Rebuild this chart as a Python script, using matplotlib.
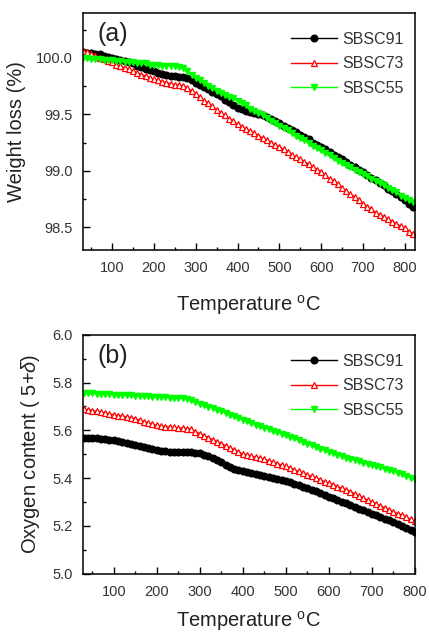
#!/usr/bin/env python3
"""TGA weight loss (a) and oxygen content (b) for SBSC91 / SBSC73 / SBSC55."""

import matplotlib
matplotlib.use("Agg")
import matplotlib.pyplot as plt
from matplotlib.ticker import MultipleLocator, FormatStrFormatter

# ---- panel (a): weight loss (%), 30..820 C every 10 C
temp_a = list(range(30, 830, 10))
wl_91 = [100.05, 100.04, 100.04, 100.03, 100.03, 100.02, 100.01, 100.00, 99.99, 99.98,
         99.97, 99.96, 99.95, 99.93, 99.92, 99.90, 99.89, 99.88, 99.87, 99.86,
         99.85, 99.84, 99.84, 99.83, 99.83, 99.82, 99.80, 99.78, 99.76, 99.74,
         99.72, 99.70, 99.68, 99.66, 99.63, 99.61, 99.58, 99.56, 99.55, 99.53,
         99.52, 99.51, 99.50, 99.49, 99.48, 99.46, 99.44, 99.42, 99.40, 99.38,
         99.36, 99.34, 99.32, 99.30, 99.28, 99.25, 99.23, 99.21, 99.19, 99.17,
         99.14, 99.12, 99.10, 99.08, 99.05, 99.03, 99.01, 98.99, 98.96, 98.94,
         98.92, 98.89, 98.87, 98.84, 98.82, 98.79, 98.77, 98.74, 98.71, 98.68]
wl_73 = [100.06, 100.05, 100.03, 100.02, 100.00, 99.99, 99.97, 99.96, 99.94, 99.93,
         99.91, 99.90, 99.88, 99.87, 99.85, 99.84, 99.82, 99.81, 99.80, 99.79,
         99.78, 99.77, 99.76, 99.76, 99.75, 99.73, 99.71, 99.68, 99.65, 99.62,
         99.60, 99.57, 99.54, 99.51, 99.49, 99.46, 99.44, 99.41, 99.39, 99.37,
         99.35, 99.33, 99.31, 99.29, 99.27, 99.25, 99.23, 99.21, 99.19, 99.17,
         99.14, 99.12, 99.10, 99.08, 99.06, 99.03, 99.01, 98.99, 98.96, 98.93,
         98.91, 98.88, 98.85, 98.82, 98.79, 98.77, 98.74, 98.71, 98.68, 98.66,
         98.63, 98.61, 98.59, 98.57, 98.55, 98.53, 98.51, 98.49, 98.46, 98.44]
wl_55 = [100.00, 100.00, 99.99, 99.99, 99.99, 99.98, 99.98, 99.98, 99.97, 99.97,
         99.96, 99.96, 99.96, 99.95, 99.95, 99.95, 99.94, 99.94, 99.94, 99.93,
         99.93, 99.93, 99.93, 99.92, 99.91, 99.88, 99.85, 99.82, 99.80, 99.78,
         99.75, 99.73, 99.71, 99.69, 99.67, 99.65, 99.64, 99.62, 99.60, 99.58,
         99.55, 99.53, 99.51, 99.49, 99.47, 99.44, 99.42, 99.40, 99.38, 99.36,
         99.33, 99.31, 99.29, 99.27, 99.25, 99.22, 99.20, 99.18, 99.16, 99.14,
         99.11, 99.09, 99.07, 99.05, 99.03, 99.01, 98.99, 98.97, 98.95, 98.93,
         98.91, 98.89, 98.87, 98.85, 98.83, 98.81, 98.78, 98.76, 98.74, 98.72]

# ---- panel (b): oxygen content 5+delta, 30..800 C every 10 C
temp_b = list(range(30, 810, 10))
ox_91 = [5.570, 5.569, 5.568, 5.566, 5.565, 5.563, 5.561, 5.558, 5.554, 5.550,
         5.546, 5.542, 5.538, 5.534, 5.530, 5.526, 5.522, 5.518, 5.515, 5.513,
         5.511, 5.510, 5.510, 5.509, 5.509, 5.508, 5.506, 5.504, 5.499, 5.493,
         5.486, 5.477, 5.467, 5.457, 5.448, 5.440, 5.434, 5.429, 5.425, 5.421,
         5.417, 5.413, 5.409, 5.405, 5.401, 5.397, 5.392, 5.387, 5.382, 5.376,
         5.371, 5.365, 5.359, 5.352, 5.345, 5.338, 5.331, 5.323, 5.316, 5.309,
         5.302, 5.295, 5.288, 5.280, 5.273, 5.265, 5.258, 5.251, 5.244, 5.237,
         5.230, 5.223, 5.216, 5.208, 5.200, 5.192, 5.184, 5.175]
ox_73 = [5.690, 5.686, 5.683, 5.679, 5.676, 5.672, 5.668, 5.665, 5.662, 5.659,
         5.656, 5.653, 5.649, 5.643, 5.637, 5.631, 5.626, 5.621, 5.618, 5.616,
         5.614, 5.612, 5.610, 5.609, 5.607, 5.604, 5.595, 5.586, 5.578, 5.570,
         5.561, 5.553, 5.545, 5.536, 5.527, 5.518, 5.509, 5.501, 5.497, 5.492,
         5.488, 5.484, 5.479, 5.473, 5.467, 5.461, 5.455, 5.449, 5.442, 5.435,
         5.428, 5.421, 5.414, 5.407, 5.400, 5.393, 5.386, 5.379, 5.372, 5.365,
         5.358, 5.351, 5.344, 5.335, 5.326, 5.317, 5.308, 5.300, 5.292, 5.284,
         5.276, 5.268, 5.260, 5.252, 5.244, 5.236, 5.228, 5.220]
ox_55 = [5.757, 5.756, 5.755, 5.754, 5.753, 5.752, 5.751, 5.750, 5.749, 5.748,
         5.747, 5.746, 5.745, 5.744, 5.743, 5.742, 5.741, 5.740, 5.739, 5.738,
         5.737, 5.736, 5.735, 5.734, 5.732, 5.729, 5.720, 5.711, 5.705, 5.699,
         5.693, 5.687, 5.680, 5.673, 5.666, 5.659, 5.652, 5.645, 5.638, 5.631,
         5.624, 5.617, 5.610, 5.604, 5.598, 5.592, 5.586, 5.580, 5.573, 5.566,
         5.559, 5.552, 5.545, 5.538, 5.531, 5.524, 5.517, 5.510, 5.504, 5.498,
         5.492, 5.486, 5.480, 5.475, 5.470, 5.465, 5.460, 5.455, 5.450, 5.445,
         5.440, 5.435, 5.430, 5.423, 5.416, 5.409, 5.402, 5.395]

labels = ["SBSC91", "SBSC73", "SBSC55"]
TEXT = "#222222"


def style_axis(ax):
    ax.tick_params(which="both", direction="in", top=False, right=False,
                   labelsize=10.5, labelcolor="#333333", width=1.0)
    ax.tick_params(which="major", length=5)
    ax.tick_params(which="minor", length=2.5)
    ax.tick_params(axis="x", pad=8)
    ax.tick_params(axis="y", pad=7)
    for sp in ax.spines.values():
        sp.set_linewidth(1.1)
    ax.xaxis.set_major_locator(MultipleLocator(100))
    ax.xaxis.set_minor_locator(MultipleLocator(50))


def draw(ax, x, ys):
    kw = dict(markersize=4.8, linewidth=1.0)
    ax.plot(x, ys[0], "-o", color="black", mfc="black", mec="black", label=labels[0], **kw)
    ax.plot(x, ys[1], "-^", color="red", mfc="white", mec="red", mew=0.9, label=labels[1], **kw)
    ax.plot(x, ys[2], "-v", color="#00ff00", mfc="#00ff00", mec="#00ff00", label=labels[2], **kw)
    leg = ax.legend(loc="upper right", bbox_to_anchor=(1.01, 0.98), frameon=False,
                    fontsize=11.5, handlelength=2.9, handletextpad=0.35,
                    labelspacing=0.6, borderaxespad=0.5)
    for t in leg.get_texts():
        t.set_color("#333333")


def main() -> None:
    plt.rcParams["font.family"] = ["Liberation Sans", "DejaVu Sans"]
    plt.rcParams["mathtext.fontset"] = "custom"
    plt.rcParams["mathtext.rm"] = "Liberation Sans"
    plt.rcParams["mathtext.it"] = "Liberation Sans:italic"

    fig = plt.figure(figsize=(4.29, 6.34), dpi=100)
    ax1 = fig.add_axes([0.193, 0.606, 0.774, 0.374])
    ax2 = fig.add_axes([0.193, 0.095, 0.774, 0.377])

    draw(ax1, temp_a, [wl_91, wl_73, wl_55])
    ax1.set_xlim(30, 824)
    ax1.set_ylim(98.3, 100.4)
    style_axis(ax1)
    ax1.yaxis.set_major_locator(MultipleLocator(0.5))
    ax1.yaxis.set_minor_locator(MultipleLocator(0.25))
    ax1.yaxis.set_major_formatter(FormatStrFormatter("%.1f"))
    ax1.set_ylabel("Weight loss (%)", fontsize=14.5, color=TEXT, labelpad=7)
    ax1.set_xlabel("Temperature $^{\\mathrm{o}}$C", fontsize=14.5, color=TEXT, labelpad=13)
    ax1.text(0.045, 0.96, "(a)", transform=ax1.transAxes, fontsize=18, va="top", color=TEXT)

    draw(ax2, temp_b, [ox_91, ox_73, ox_55])
    ax2.set_xlim(28, 800)
    ax2.set_ylim(5.0, 6.0)
    style_axis(ax2)
    ax2.yaxis.set_major_locator(MultipleLocator(0.2))
    ax2.yaxis.set_minor_locator(MultipleLocator(0.1))
    ax2.yaxis.set_major_formatter(FormatStrFormatter("%.1f"))
    ax2.set_ylabel("Oxygen content ( 5+$\\mathit{\\delta}$)", fontsize=14.5, color=TEXT, labelpad=8)
    ax2.set_xlabel("Temperature $^{\\mathrm{o}}$C", fontsize=14.5, color=TEXT, labelpad=7)
    ax2.text(0.045, 0.96, "(b)", transform=ax2.transAxes, fontsize=18, va="top", color=TEXT)

    fig.savefig("out.png", dpi=100)
    plt.close(fig)


if __name__ == "__main__":
    main()
